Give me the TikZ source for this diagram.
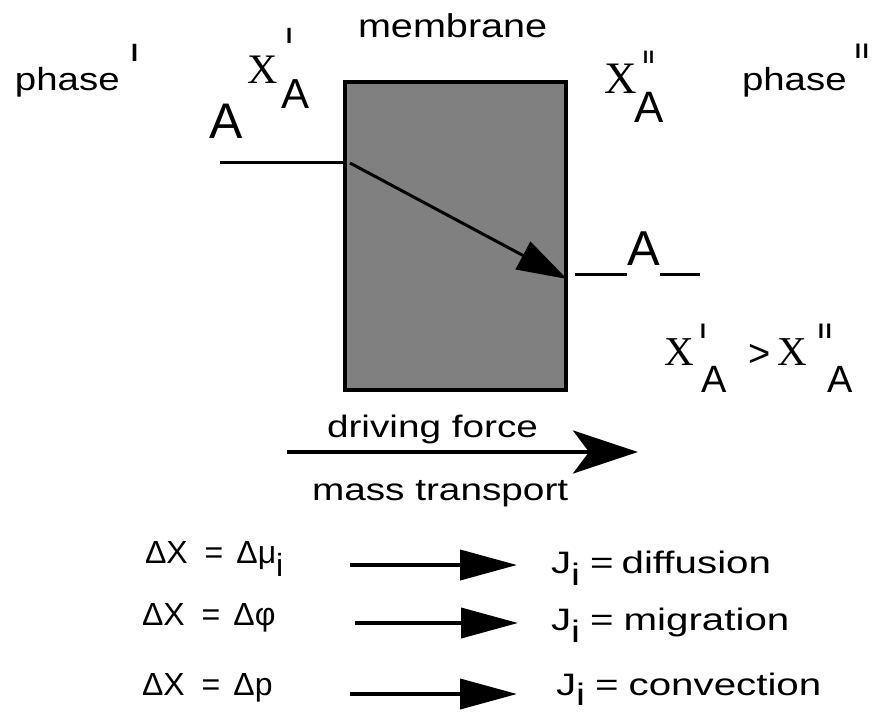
\documentclass[tikz,border=0pt]{standalone}
\usepackage{fontspec}
\usepackage{graphicx}
\setmainfont{Liberation Sans}
\newfontfamily\widesans[FakeStretch=1.2]{Liberation Sans}
\newfontfamily\widesansc[FakeStretch=1.25]{Liberation Sans}
\newfontfamily\widesansb[FakeStretch=1.3]{Liberation Sans}
\newfontfamily\serifx{Liberation Serif}
\usetikzlibrary{arrows.meta}
\newcommand{\fs}[1]{\fontsize{#1}{#1}\selectfont}
\definecolor{boxgray}{RGB}{128,128,128}
\begin{document}
\begin{tikzpicture}[x=1pt,y=-1pt,
  lbl/.style={inner sep=0pt, outer sep=0pt, anchor=base west},
  tick/.style={lbl, font=\bfseries\fs{#1}},
  thinline/.style={line width=3pt},
  rowarrow/.style={line width=4pt, -{Triangle[length=57pt,width=30pt]}}]
\useasboundingbox[fill=white] (0,0) rectangle (884,713);

% membrane
\node[draw, line width=4pt, fill=boxgray, minimum width=221pt, minimum height=308pt, inner sep=0pt] (mem) at (455.5,236) {};
\node[lbl, font=\widesans\fs{33}] (memlbl) at (358,37) {membrane};

% phase I side
\node[lbl, font=\widesans\fs{32}] (ph1) at (15,90) {phase};
\node[tick=25] (ph1s) at (131,61) {I};
\node[lbl, font=\serifx\fs{42}] (x1) at (247,83) {X};
\node[tick=22] (x1s) at (286,43) {I};
\node[lbl, font=\fs{42}] (x1a) at (281,108) {A};
\node[lbl, font=\fs{50}] (Al) at (209,138) {A};

% phase II side
\node[lbl, font=\serifx\fs{45}] (x2) at (604,93) {X};
\node[tick=18] (x2s) at (643,63) {I\hspace{1pt}I};
\node[lbl, font=\fs{44}] (x2a) at (634,122) {A};
\node[lbl, font=\widesans\fs{32}] (ph2) at (742,90) {phase};
\node[tick=21] (ph2s) at (855,58) {I\hspace{2pt}I};

% concentration lines
\coordinate (L0) at (220,162);
\draw[thinline] (L0) -- (L0 -| mem.west);
\coordinate (D0) at (350,163);
\coordinate (D1) at (567,279);
\draw[thinline, -{Triangle[length=50pt,width=31pt]}] (D0) -- (D1);
\node[lbl, font=\fs{49}] (Ar) at (627,265) {A};
\coordinate (R0) at (575,274);
\coordinate (R1) at (700,274);
\draw[thinline] (R0) -- (R0 -| Ar.west);
\draw[thinline] (R1 -| Ar.east) -- (R1);

% inequality
\node[lbl, font=\serifx\fs{41}] (x3) at (664,365) {X};
\node[tick=21] (x3s) at (700,338) {I};
\node[lbl, font=\fs{38}] (x3a) at (701,392) {A};
\node[lbl, font=\fs{38}] (gt) at (748,366) {>};
\node[lbl, font=\serifx\fs{41}] (x4) at (777,365) {X};
\node[tick=21] (x4s) at (818,338) {I\hspace{2pt}I};
\node[lbl, font=\fs{38}] (x4a) at (827,392) {A};

% driving force
\node[lbl, font=\widesansc\fs{31}] (df) at (327,437) {driving force};
\node[lbl, font=\widesansc\fs{31}] (mt) at (312,500) {mass transport};
\coordinate (F0) at (287,452);
\coordinate (F1) at (638,452);
\draw[line width=4pt, -{Stealth[length=65pt,width=43pt,inset=16pt]}] (F0) -- (F1);

% rows
\node[lbl, font=\fs{32}] (e1) at (145,563) {ΔX\hspace{17pt}=\hspace{13pt}Δμ\raisebox{-13pt}{i}};
\node[lbl, font=\fs{32}] (e2) at (142,625) {ΔX\hspace{17pt}=\hspace{13pt}Δφ};
\node[lbl, font=\fs{32}] (e3) at (142,695) {ΔX\hspace{17pt}=\hspace{13pt}Δp};

\node[lbl, font=\widesansb\fs{31}] (j1) at (551,573) {J\raisebox{-12pt}{i}\hspace{10pt}=\hspace{8pt}diffusion};
\node[lbl, font=\widesansb\fs{31}] (j2) at (551,630) {J\raisebox{-12pt}{i}\hspace{10pt}=\hspace{10pt}migration};
\node[lbl, font=\widesansb\fs{31}] (j3) at (556,695) {J\raisebox{-10pt}{i}\hspace{10pt}=\hspace{10pt}convection};

\coordinate (a1s) at (350,565); \coordinate (a1e) at (517,565);
\coordinate (a2s) at (355,623); \coordinate (a2e) at (518,623);
\coordinate (a3s) at (350,694); \coordinate (a3e) at (517,694);
\draw[rowarrow] (a1s) -- (a1e);
\draw[rowarrow] (a2s) -- (a2e);
\draw[rowarrow] (a3s) -- (a3e);
\end{tikzpicture}
\end{document}
